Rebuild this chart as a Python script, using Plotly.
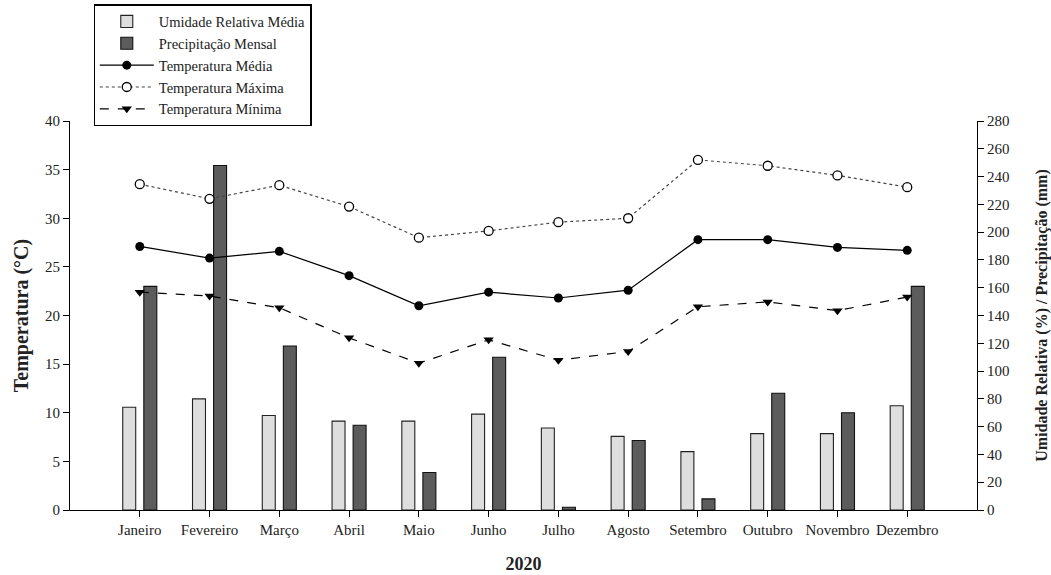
import plotly.graph_objects as go

months = ["Janeiro", "Fevereiro", "Março", "Abril", "Maio", "Junho", "Julho",
          "Agosto", "Setembro", "Outubro", "Novembro", "Dezembro"]

# Relative humidity (%) and monthly rainfall (mm), right axis
umidade = [74, 80, 68, 64, 64, 69, 59, 53, 42, 55, 55, 75]
precipitacao = [161, 248, 118, 61, 27, 110, 2, 50, 8, 84, 70, 161]

# Temperatures (°C), left axis
temp_media = [27.1, 25.9, 26.6, 24.1, 21.0, 22.4, 21.8, 22.6, 27.8, 27.8, 27.0, 26.7]
temp_max = [33.5, 32.0, 33.4, 31.2, 28.0, 28.7, 29.6, 30.0, 36.0, 35.4, 34.4, 33.2]
temp_min = [22.4, 22.0, 20.8, 17.7, 15.1, 17.5, 15.4, 16.3, 20.9, 21.4, 20.5, 21.9]

serif = "Liberation Serif, Times New Roman, serif"
ink = "#222"

fig = go.Figure()

# bars sit on the primary (right-hand) axis so the temperature lines draw on top
fig.add_trace(go.Bar(
    x=months, y=umidade, name="Umidade Relativa Média", yaxis="y",
    marker=dict(color="#dedede", line=dict(color="#222", width=1.1)),
))
fig.add_trace(go.Bar(
    x=months, y=precipitacao, name="Precipitação Mensal", yaxis="y",
    marker=dict(color="#5c5c5c", line=dict(color="#111", width=1.1)),
))
fig.add_trace(go.Scatter(
    x=months, y=temp_media, name="Temperatura Média", yaxis="y2",
    mode="lines+markers",
    line=dict(color="black", width=1.2),
    marker=dict(symbol="circle", size=9, color="black"),
))
fig.add_trace(go.Scatter(
    x=months, y=temp_max, name="Temperatura Máxima", yaxis="y2",
    mode="lines+markers",
    line=dict(color="#444", width=1.2, dash="dot"),
    marker=dict(symbol="circle", size=9, color="white",
                line=dict(color="black", width=1.3)),
))
fig.add_trace(go.Scatter(
    x=months, y=temp_min, name="Temperatura Mínima", yaxis="y2",
    mode="lines+markers",
    line=dict(color="black", width=1.2, dash="dash"),
    marker=dict(symbol="triangle-down", size=9, color="black"),
))

fig.update_layout(
    width=1051, height=575,
    margin=dict(l=70, r=74, t=121, b=65, autoexpand=False),
    plot_bgcolor="white", paper_bgcolor="white",
    font=dict(family=serif, size=15, color=ink),
    barmode="group", bargap=0.396, bargroupgap=0.384,
    showlegend=True,
    legend=dict(
        x=0.026, y=1.30, xanchor="left", yanchor="top",
        bordercolor="black", borderwidth=1.2, bgcolor="white",
        font=dict(family=serif, size=14.5, color=ink),
        traceorder="normal", tracegroupgap=0, itemwidth=54,
    ),
    xaxis=dict(
        type="category", range=[-1, 12],
        showline=True, linecolor="black", linewidth=1.2,
        ticks="outside", ticklen=6, tickcolor="black",
        tickfont=dict(family=serif, size=15, color=ink),
        showgrid=False, zeroline=False,
        title=dict(text="<b>2020</b>", font=dict(family=serif, size=18, color=ink), standoff=20),
    ),
    yaxis=dict(
        side="right", range=[0, 280], dtick=20,
        showline=True, linecolor="black", linewidth=1.2,
        ticks="outside", ticklen=6, tickcolor="black",
        showgrid=False, zeroline=False,
        tickfont=dict(family=serif, size=15, color=ink),
        title=dict(text="<b>Umidade Relativa (%) / Precipitação (mm)</b>",
                   font=dict(family=serif, size=16, color=ink), standoff=27),
    ),
    yaxis2=dict(
        side="left", overlaying="y", range=[0, 40], dtick=5,
        showline=True, linecolor="black", linewidth=1.2,
        ticks="outside", ticklen=6, tickcolor="black",
        showgrid=False, zeroline=False,
        tickfont=dict(family=serif, size=15, color=ink),
        title=dict(text="<b>Temperatura (°C)</b>",
                   font=dict(family=serif, size=20, color=ink), standoff=10),
    ),
)

fig.write_html("out.html")
